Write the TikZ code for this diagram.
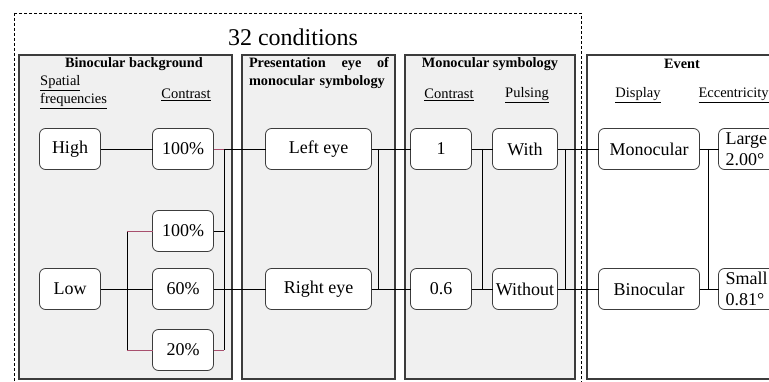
\documentclass[tikz,border=0pt]{standalone}
\usepackage{fontspec}
\setmainfont{Liberation Serif}
\usepackage{xcolor}
\usepackage{tikz}
\usetikzlibrary{positioning}
\definecolor{panelgray}{HTML}{F0F0F0}
\definecolor{edgegray}{HTML}{3C3C3C}
\definecolor{linkpink}{HTML}{A8506E}

\begin{document}
\begin{tikzpicture}[x=1pt,y=-1pt,
  box/.style={draw=edgegray,fill=white,rounded corners=6pt,line width=0.8pt,outer sep=0pt,minimum width=61pt,minimum height=41pt,inner xsep=2pt,font=\fontsize{18}{20}\selectfont},
  sidebox/.style={box,align=left,text width=50pt,inner xsep=7pt,inner ysep=1pt,font=\fontsize{18}{21}\selectfont},
  panel/.style={draw=edgegray,line width=1.1pt},
  head/.style={font=\fontsize{14.3}{18}\selectfont\bfseries},
  sub/.style={font=\fontsize{14.5}{18}\selectfont},
  link/.style={line width=0.8pt},
  pinklink/.style={line width=0.8pt,draw=linkpink}]
\clip (0,0) rectangle (769,382);
% frame and panels
\draw[dash pattern=on 3pt off 2pt,line width=0.8pt] (14,13) rectangle (581,400);
\node[font=\fontsize{24}{28}\selectfont] (title) at (293,37) {32 conditions};
\draw[panel,fill=panelgray] (19,55) rectangle (232,379);
\draw[panel,fill=panelgray] (242,55) rectangle (395,379);
\draw[panel,fill=panelgray] (405,55) rectangle (575,379);
\draw[panel,fill=white] (587,55) rectangle (800,379);
\node[head] (hb) at (134,64) {Binocular background};
\node[head,text width=140pt,align=left] (hp) at (319,73) {Presentation\hfill eye\hfill of\\monocular symbology};
\node[head] (hm) at (490,64) {Monocular symbology};
\node[head] (he) at (682,64) {Event};
\node[sub,align=left,anchor=west,inner sep=0pt] (sf) at (40,92) {\underline{Spatial}\\\underline{frequencies}};
\node[sub] (sc) at (186,95) {\underline{Contrast}};
\node[sub] (mc) at (449,95) {\underline{Contrast}};
\node[sub] (mp) at (527,95) {\underline{Pulsing}};
\node[sub] (ed) at (638,95) {\underline{Display}};
\node[sub,anchor=west] (ee) at (695,95) {\underline{Eccentricity}};
% first row
\node[box] (hi) at (70,149) {High};
\node[box,right=52pt of hi] (c1) {100\%};
\node[box,right=52pt of c1,minimum width=106pt] (le) {Left eye};
\node[box,right=39pt of le] (m1) {1};
\node[box,right=21pt of m1,minimum width=65pt] (pw) {With};
\node[box,right=41pt of pw,minimum width=101pt] (dm) {Monocular};
\node[sidebox,right=19pt of dm] (el) {Large\\2.00°};
% second row
\node[box,below=99pt of hi] (lo) {Low};
\node[box,below=41pt of c1] (c2) {100\%};
\node[box,below=17pt of c2] (c3) {60\%};
\node[box,below=20pt of c3] (c4) {20\%};
\node[box,below=99pt of le,minimum width=106pt] (re) {Right eye};
\node[box,below=99pt of m1] (m2) {0.6};
\node[box,below=99pt of pw,minimum width=65pt] (po) {Without};
\node[box,below=99pt of dm,minimum width=101pt] (db) {Binocular};
\node[sidebox,below=99pt of el] (es) {Small\\0.81°};
% junctions
\coordinate (jl) at (127,289);
\coordinate (ja) at (224,149);
\coordinate (jc) at (378,149);
\coordinate (jm) at (482,149);
\coordinate (jp) at (565,149);
\coordinate (jd) at (708,149);
% connectors
\draw[link] (hi)--(c1);
\draw[pinklink] (c1.east)--(ja); \draw[link] (ja)--(le);
\draw[link] (ja)--(ja |- c4.east);
\draw[link] (c2.east)--(c2.east -| ja);
\draw[pinklink] (c4.east)--(c4.east -| ja);
\draw[link] (lo)--(c3); \draw[link] (c3)--(re);
\draw[link] (c2.west -| jl)--(c4.west -| jl);
\draw[pinklink] (c2.west -| jl)--(c2.west);
\draw[pinklink] (c4.west -| jl)--(c4.west);
\draw[link] (le)--(m1); \draw[link] (re)--(m2);
\draw[link] (jc)--(jc |- re.east);
\draw[link] (m1)--(pw); \draw[link] (m2)--(po);
\draw[link] (jm)--(jm |- m2.east);
\draw[link] (pw)--(dm); \draw[link] (po)--(db);
\draw[link] (jp)--(jp |- po.east);
\draw[link] (dm)--(el); \draw[link] (db)--(es);
\draw[link] (jd)--(jd |- db.east);
\end{tikzpicture}
\end{document}
